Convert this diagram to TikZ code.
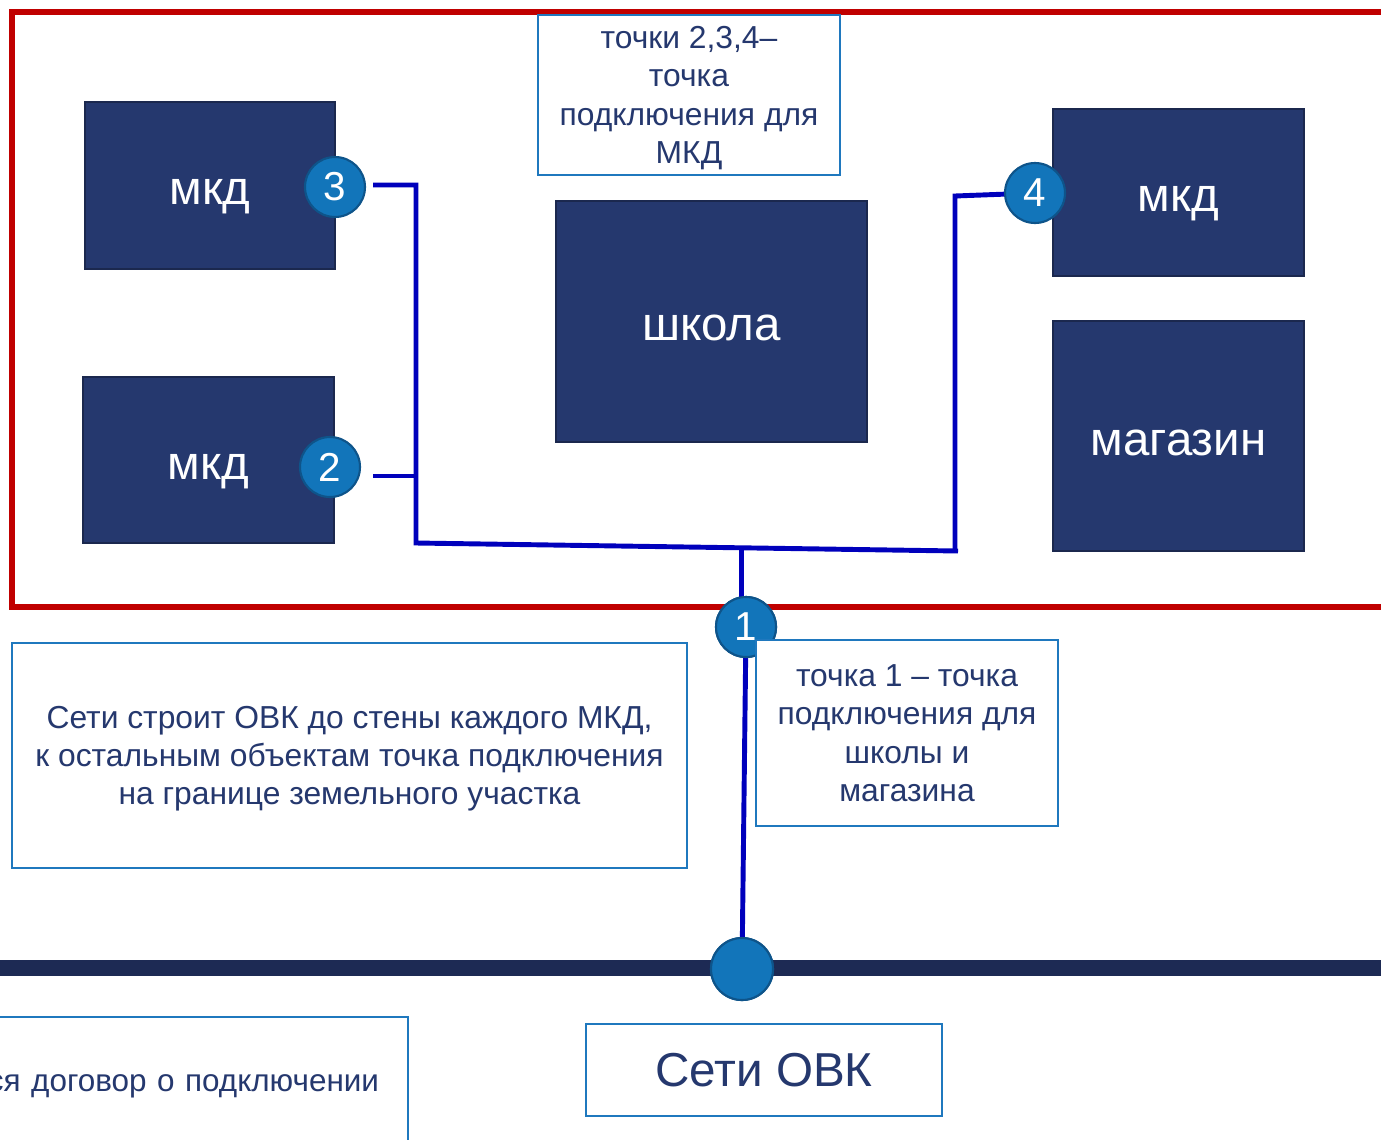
\documentclass[tikz,border=0pt]{standalone}
\usepackage{fontspec}
\setmainfont{Liberation Sans}
\usetikzlibrary{calc}
\definecolor{navy}{RGB}{37,56,110}
\definecolor{navyedge}{RGB}{27,40,78}
\definecolor{mainline}{RGB}{29,42,84}
\definecolor{frame}{RGB}{192,0,0}
\definecolor{wirecol}{RGB}{0,0,188}
\definecolor{dotfill}{RGB}{18,117,186}
\definecolor{dotedge}{RGB}{14,84,138}
\definecolor{noteedge}{RGB}{31,120,190}

\begin{document}
\begin{tikzpicture}[x=0.02cm,y=-0.02cm,
    house/.style={draw=navyedge,line width=1.2pt,fill=navy,text=white,inner sep=0pt,
        text height=22pt,text depth=0pt,font=\fontsize{27}{30}\selectfont},
    dot/.style={circle,draw=dotedge,line width=1.2pt,fill=dotfill,text=white,inner sep=0pt,
        minimum size=1.2cm,font=\fontsize{23}{24}\selectfont},
    note/.style={draw=noteedge,line width=1.1pt,fill=white,text=navy,align=center,inner sep=0pt,
        text depth=0pt,font=\fontsize{18.1}{21.8}\selectfont},
    wire/.style={draw=wirecol,line width=2.8pt}]
    \useasboundingbox (0,0) rectangle (1381,1139);
    \clip (0,0) rectangle (1381,1139);

    \draw[frame,line width=3.4pt] (1400,12) -- (12,12) -- (12,607) -- (1400,607);
    \draw[mainline,line width=9pt] (0,968) -- (1381,968);

    \node[house,minimum width=5cm,minimum height=3.34cm] (mkdA) at (210,185.5) {мкд};
    \node[house,minimum width=5.02cm,minimum height=3.32cm] (mkdB) at (208.5,460) {мкд};
    \node[house,minimum width=6.22cm,minimum height=4.82cm] (school) at (711.5,321.5) {школа};
    \node[house,minimum width=5.02cm,minimum height=3.34cm] (mkdC) at (1178.5,192.5) {мкд};
    \node[house,minimum width=5.02cm,minimum height=4.6cm] (shop) at (1178.5,436) {магазин};

    \node[dot] (p3) at (335,187) {3};
    \node[dot] (p2) at (330,467) {2};
    \node[dot] (p4) at (1035,193) {4};
    \node[dot] (p1) at (746,627) {1};
    \node[dot,minimum size=1.24cm] (p0) at (742,969) {};

    \coordinate (s3) at (373,185);
    \coordinate (j3) at (416,185);
    \coordinate (jL) at (416,543);
    \coordinate (jR) at (958,551);
    \coordinate (j4) at (955,196);
    \coordinate (s2) at (373,476);
    \coordinate (j2) at (416,476);
    \coordinate (jM) at ($(jL)!0.6!(jR)$);

    \draw[wire] (s3) -- (j3) -- (jL) -- (jR);
    \draw[wire] (p4) -- (j4) -- (j4 |- jR);
    \draw[wire] (s2) -- (j2);
    \draw[wire] (jM) -- (jM |- p1);
    \draw[wire] (p1) -- (p0);
    \node[dot] at (p1) {1};
    \node[dot,minimum size=1.24cm] at (p0) {};

    \node[note,minimum width=6.04cm,minimum height=3.2cm] (noteTop) at (689,95)
        {точки 2,3,4–\\точка\\подключения для\\МКД};
    \node[note,minimum width=13.5cm,minimum height=4.5cm] (noteLeft) at (349.5,755.5)
        {Сети строит ОВК до стены каждого МКД,\\к остальным объектам точка подключения\\на границе земельного участка};
    \node[note,minimum width=6.04cm,minimum height=3.72cm] (noteRight) at (907,733)
        {точка 1 – точка\\подключения для\\школы и\\магазина};
    \node[note,text width=12cm,align=right,inner xsep=0.58cm,minimum height=2.64cm,anchor=north east,
        font=\fontsize{17.9}{21.8}\selectfont]
        (deal) at (409,1016) {ся договор о подключении};
    \node[note,minimum width=7.12cm,minimum height=1.84cm,font=\fontsize{27.1}{29}\selectfont]
        (ovk) at (764,1070) {Сети ОВК};
\end{tikzpicture}
\end{document}
